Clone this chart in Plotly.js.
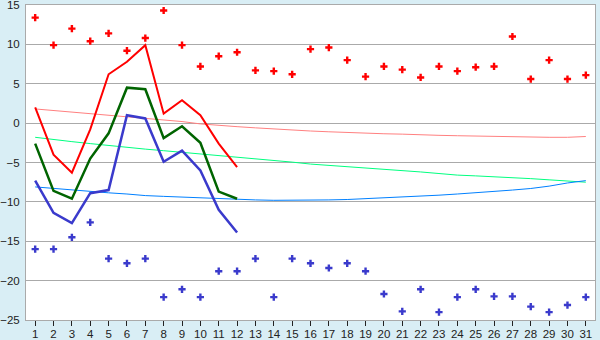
<!DOCTYPE html>
<html><head><meta charset="utf-8">
<script src="https://cdn.plot.ly/plotly-3.0.1.min.js"></script>
<style>html,body{margin:0;padding:0;background:#d9eef5;}#c{width:600px;height:340px;}</style>
</head><body><div id="c"></div>
<script>
var days = [];
for (var i = 1; i <= 31; i++) days.push(i);
var daysShort = days.slice(0, 12);
var maxPoints = [13.4, 9.9, 12.0, 10.4, 11.4, 9.2, 10.8, 14.3, 9.9, 7.2, 8.5, 9.0, 6.7, 6.6, 6.2, 9.4, 9.6, 8.0, 5.9, 7.2, 6.8, 5.8, 7.2, 6.6, 7.1, 7.2, 11.0, 5.6, 8.0, 5.6, 6.1];
var minPoints = [-16.0, -16.0, -14.5, -12.6, -17.2, -17.8, -17.2, -22.1, -21.1, -22.1, -18.8, -18.8, -17.2, -22.1, -17.2, -17.8, -18.4, -17.8, -18.8, -21.7, -23.9, -21.1, -24.0, -22.1, -21.1, -22.0, -22.0, -23.3, -24.0, -23.1, -22.1];
var maxLine = [2.0, -4.0, -6.3, -0.8, 6.2, 7.8, 9.9, 1.2, 2.9, 1.0, -2.6, -5.6];
var meanLine = [-2.6, -8.6, -9.6, -4.5, -1.3, 4.5, 4.3, -1.9, -0.4, -2.5, -8.7, -9.6];
var minLine = [-7.3, -11.4, -12.7, -8.9, -8.5, 1.0, 0.6, -4.9, -3.5, -6.0, -11.0, -13.9];
var maxTrend = [1.8, 1.6, 1.4, 1.2, 1.0, 0.8, 0.6, 0.4, 0.2, -0.1, -0.3, -0.45, -0.6, -0.75, -0.9, -1.0, -1.1, -1.2, -1.3, -1.35, -1.4, -1.5, -1.55, -1.6, -1.65, -1.7, -1.75, -1.78, -1.8, -1.8, -1.7];
var meanTrend = [-1.8, -2.1, -2.35, -2.6, -2.85, -3.1, -3.3, -3.5, -3.7, -3.9, -4.1, -4.35, -4.55, -4.75, -4.95, -5.2, -5.35, -5.5, -5.7, -5.85, -6.0, -6.2, -6.4, -6.6, -6.7, -6.8, -6.9, -7.05, -7.2, -7.35, -7.5];
var minTrend = [-8.1, -8.3, -8.5, -8.7, -8.85, -9.0, -9.2, -9.3, -9.4, -9.5, -9.6, -9.7, -9.75, -9.8, -9.8, -9.8, -9.75, -9.7, -9.6, -9.5, -9.4, -9.3, -9.15, -9.0, -8.85, -8.7, -8.5, -8.3, -8.0, -7.6, -7.3];
var yTicks = [-25, -20, -15, -10, -5, 0, 5, 10, 15];

var traces = [
  {x: days, y: maxTrend, mode: 'lines', line: {color: '#ff8080', width: 1}},
  {x: days, y: meanTrend, mode: 'lines', line: {color: '#00ff80', width: 1}},
  {x: days, y: minTrend, mode: 'lines', line: {color: '#0080ff', width: 1}},
  {x: daysShort, y: maxLine, mode: 'lines', line: {color: '#ff0000', width: 2}},
  {x: daysShort, y: meanLine, mode: 'lines', line: {color: '#006400', width: 2.5}},
  {x: daysShort, y: minLine, mode: 'lines', line: {color: '#3a3acc', width: 2.5}},
  {x: days, y: maxPoints, mode: 'markers', marker: {symbol: 'cross', size: 6, color: '#ff0000'}},
  {x: days, y: minPoints, mode: 'markers', marker: {symbol: 'cross', size: 6, color: '#3a3acc'}}
];
var layout = {
  width: 600, height: 340,
  margin: {l: 26, r: 5, t: 5, b: 20},
  paper_bgcolor: '#d9eef5', plot_bgcolor: '#ffffff',
  showlegend: false,
  font: {family: 'Liberation Sans', size: 11, color: '#222'},
  xaxis: {range: [0.5, 31.5], tickvals: days, ticks: 'outside', ticklen: 5, tickcolor: '#222',
          ticklabelstandoff: -2, tickfont: {size: 11.5}, ticklabeloverflow: 'allow',
          showgrid: false, zeroline: false, showline: true, linecolor: '#aaa', mirror: true, fixedrange: true},
  yaxis: {range: [-25, 15], tickvals: yTicks, ticks: '', ticklabelstandoff: 3,
          tickfont: {size: 11.5}, ticklabeloverflow: 'allow',
          showgrid: true, gridcolor: '#aaa', gridwidth: 1, zeroline: false, showline: true, linecolor: '#aaa', mirror: true, fixedrange: true}
};
Plotly.newPlot('c', traces, layout, {displayModeBar: false, staticPlot: true});
</script></body></html>
